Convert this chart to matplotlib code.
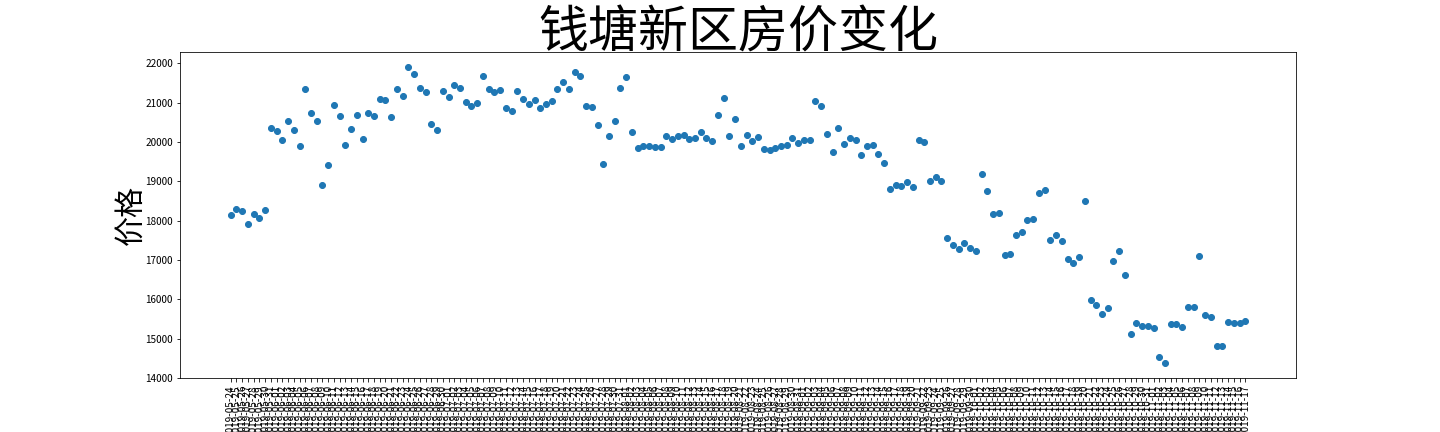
import matplotlib
matplotlib.use("Agg")
import matplotlib.pyplot as plt
import pandas as pd

plt.rcParams['font.family'] = ['Noto Sans CJK SC', 'DejaVu Sans']
plt.rcParams['axes.unicode_minus'] = False

# dates on the x axis (one label per record)
dates = [d.strftime("%Y-%m-%d") for d in pd.date_range("2019-05-24", periods=178, freq="D")]

# average price per record
prices = [
    18145, 18298, 18247, 17916, 18171, 18069, 18273, 20362, 20285, 20056,
    20522, 20310, 19903, 21355, 20726, 20522, 18917, 19419, 20946, 20667,
    19929, 20336, 20693, 20081, 20744, 20667, 21100, 21075, 20642, 21355,
    21177, 21915, 21738, 21381, 21279, 20463, 20310, 21304, 21152, 21457,
    21381, 21024, 20922, 20999, 21687, 21355, 21279, 21330, 20871, 20795,
    21304, 21100, 20973, 21075, 20871, 20973, 21050, 21355, 21534, 21355,
    21789, 21687, 20922, 20897, 20438, 19446, 20158, 20540, 21381, 21661,
    20260, 19852, 19903, 19903, 19878, 19878, 20158, 20081, 20158, 20183,
    20081, 20107, 20260, 20107, 20031, 20693, 21126, 20158, 20591, 19903,
    20183, 20031, 20133, 19827, 19801, 19852, 19903, 19929, 20107, 19980,
    20056, 20056, 21050, 20922, 20209, 19750, 20362, 19954, 20107, 20056,
    19674, 19903, 19929, 19700, 19471, 18808, 18910, 18884, 18986, 18859,
    20060, 20005, 19011, 19113, 19011, 17559, 17381, 17279, 17432, 17305,
    17228, 19190, 18757, 18171, 18196, 17126, 17152, 17636, 17712, 18018,
    18043, 18706, 18782, 17508, 17636, 17483, 17024, 16922, 17075, 18502,
    15979, 15852, 15623, 15776, 16973, 17228, 16617, 15113, 15394, 15317,
    15317, 15266, 14527, 14375, 15368, 15368, 15292, 15801, 15801, 17100,
    15597, 15546, 14807, 14807, 15419, 15394, 15394, 15445,
]

fig = plt.figure(figsize=(20, 6), dpi=72)
fig.subplots_adjust(left=0.125, right=0.9, bottom=0.125, top=0.88)
ax = fig.add_subplot(111)
ax.scatter(dates, prices, color='#1f77b4')

ax.set_title('钱塘新区房价变化', fontsize=50, y=1.0, pad=4)
ax.set_ylabel('价格', fontsize=30, labelpad=-1)
plt.xticks(rotation=90)

fig.savefig('out.png', dpi=72)
